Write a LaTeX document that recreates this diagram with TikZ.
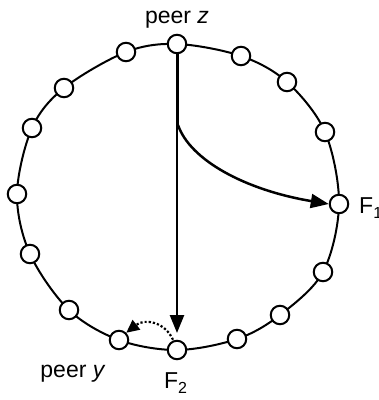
\documentclass[tikz,border=0pt]{standalone}
\usepackage{fontspec}
\setmainfont{Liberation Sans}
\usetikzlibrary{arrows.meta}
\newcommand{\bigsub}[1]{\raisebox{-5.5pt}{\fontsize{16}{16}\selectfont #1}}
\begin{document}
\begin{tikzpicture}[x=1pt,y=-1pt,
  peer/.style={circle,draw=black,fill=white,line width=2pt,minimum size=18.5pt,inner sep=0pt},
  ring/.style={line width=2pt},
  lbl/.style={font=\fontsize{23}{27}\selectfont,inner sep=0pt},
  main/.style={line width=2.5pt,-{Triangle[length=18pt,width=14pt]}},
  hop/.style={line width=2.2pt,dotted,-{Triangle[length=13pt,width=12pt]}}]
\useasboundingbox (0,0) rectangle (379,400);
\coordinate (p0) at (177,44);
\coordinate (p1) at (241,56);
\coordinate (p2) at (287,82);
\coordinate (p3) at (325,132);
\coordinate (p4) at (339,204);
\coordinate (p5) at (323,272);
\coordinate (p6) at (280,315);
\coordinate (p7) at (237,339);
\coordinate (p8) at (177,350);
\coordinate (p9) at (119,340);
\coordinate (p10) at (69,310);
\coordinate (p11) at (30,254);
\coordinate (p12) at (17,194);
\coordinate (p13) at (32,128);
\coordinate (p14) at (64,88);
\coordinate (p15) at (126,52);
\draw[ring] plot[smooth cycle,tension=0.55] coordinates {(p0) (p1) (p2) (p3) (p4) (p5) (p6) (p7) (p8) (p9) (p10) (p11) (p12) (p13) (p14) (p15)};
\foreach \i in {0,...,15} {\node[peer] (n\i) at (p\i) {};}
\coordinate (bend) at (178,125);
\draw[main] (n0.south) -- (n8.north |- 0,333);
\draw[line width=2.5pt] ([xshift=1pt]n0.south) -- (bend);
\draw[main] (bend) .. controls (190,160) and (245,190) .. (n4.west);
\draw[hop] ([xshift=-4pt]n8.north) .. controls (165,322) and (145,318) .. (n9.north east);
\node[lbl,anchor=base] (lz) at (177,23) {peer \textit{z}};
\node[lbl,anchor=base] (ly) at (73,377) {peer \textit{y}};
\node[lbl,anchor=base west] (lf2) at (164,388) {F\bigsub{2}};
\node[lbl,anchor=base west] (lf1) at (359,213) {F\bigsub{1}};
\end{tikzpicture}
\end{document}
